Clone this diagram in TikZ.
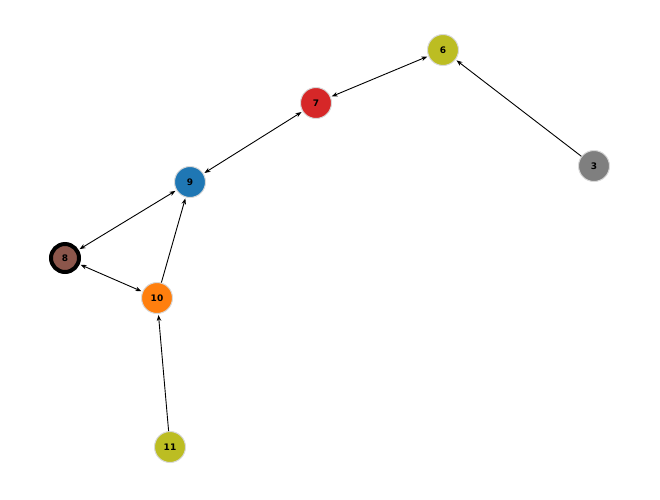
\documentclass[tikz,border=0pt]{standalone}
\usepackage{fontspec}
\setmainfont{DejaVu Sans}
\usetikzlibrary{arrows.meta}
\definecolor{tolive}{HTML}{BCBD22}
\definecolor{tred}{HTML}{D62728}
\definecolor{tgray}{HTML}{7F7F7F}
\definecolor{tblue}{HTML}{1F77B4}
\definecolor{tbrown}{HTML}{8C564B}
\definecolor{torange}{HTML}{FF7F0E}
\begin{document}
\begin{tikzpicture}[x=1pt,y=-1pt,
  nd/.style={circle,minimum size=31pt,inner sep=0pt,draw=black!15,line width=1pt,font=\bfseries\fontsize{9}{9}\selectfont},
  ed/.style={-{Stealth[length=6pt,width=4.5pt]},line width=0.9pt,shorten >=1pt},
  bd/.style={{Stealth[length=6pt,width=4.5pt]}-{Stealth[length=6pt,width=4.5pt]},line width=0.9pt,shorten >=1pt,shorten <=1pt}]
\useasboundingbox (0,0) rectangle (660,499);
\node[nd,fill=tolive] (n6) at (443,50) {6};
\node[nd,fill=tred] (n7) at (316,103) {7};
\node[nd,fill=tgray] (n3) at (594,166) {3};
\node[nd,fill=tblue] (n9) at (190,182) {9};
\node[nd,fill=tbrown,draw=black,line width=4pt,minimum size=28pt] (n8) at (65,258) {8};
\node[nd,fill=torange] (n10) at (157,298) {10};
\node[nd,fill=tolive] (n11) at (170,447) {11};
\draw[ed] (n3) -- (n6);
\draw[bd] (n7) -- (n6);
\draw[bd] (n9) -- (n7);
\draw[bd] (n8) -- (n9);
\draw[bd] (n8) -- (n10);
\draw[ed] (n10) -- (n9);
\draw[ed] (n11) -- (n10);
\end{tikzpicture}
\end{document}
